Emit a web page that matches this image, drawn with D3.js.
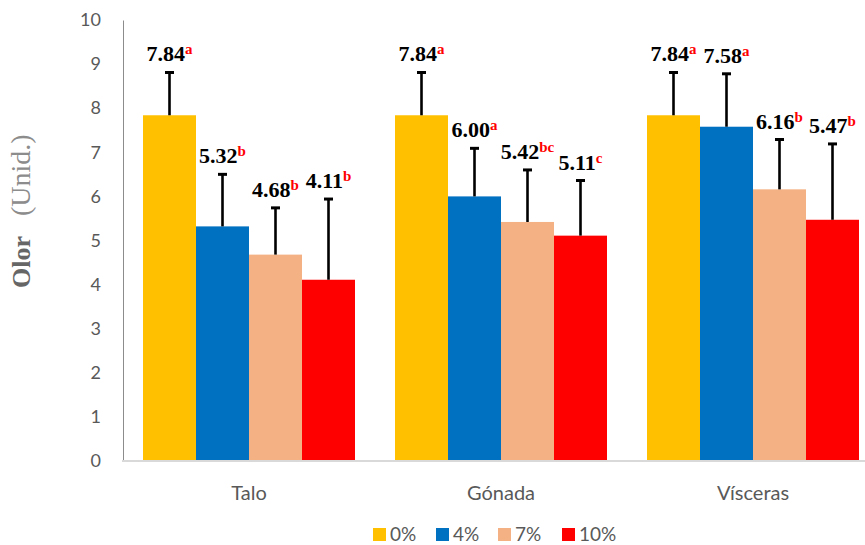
<!DOCTYPE html>
<html>
<head>
<meta charset="utf-8">
<script src="https://cdn.jsdelivr.net/npm/d3@7"></script>
<style>
  html, body { margin: 0; padding: 0; background: #fff; }
  svg { display: block; }
</style>
</head>
<body>
<svg id="chart" width="865" height="545"></svg>
<script>
// ---- data ----
const categories = ["Talo", "Gónada", "Vísceras"];
const seriesNames = ["0%", "4%", "7%", "10%"];
const seriesColors = ["#FFC000", "#0070C0", "#F4B183", "#FF0000"];
const values0 = [7.84, 7.84, 7.84];
const values4 = [5.32, 6.00, 7.58];
const values7 = [4.68, 5.42, 6.16];
const values10 = [4.11, 5.11, 5.47];
const sd0 = [0.97, 0.97, 0.97];
const sd4 = [1.18, 1.09, 1.20];
const sd7 = [1.06, 1.18, 1.13];
const sd10 = [1.83, 1.25, 1.72];
const letters0 = ["a", "a", "a"];
const letters4 = ["b", "a", "a"];
const letters7 = ["b", "bc", "b"];
const letters10 = ["b", "c", "b"];
const yTicks = [0, 1, 2, 3, 4, 5, 6, 7, 8, 9, 10];

const allValues = [values0, values4, values7, values10];
const allSd = [sd0, sd4, sd7, sd10];
const allLetters = [letters0, letters4, letters7, letters10];

const data = [];
categories.forEach((c, ci) => {
  seriesNames.forEach((s, si) => {
    data.push({ cat: c, series: s, color: seriesColors[si],
      value: allValues[si][ci], sd: allSd[si][ci], letter: allLetters[si][ci] });
  });
});

// ---- layout ----
const svg = d3.select("#chart");
const mLeft = 123, mRight = 879, mTop = 20, mBottom = 461;

const x0 = d3.scaleBand().domain(categories).range([mLeft, mRight])
  .paddingInner(40 / 252).paddingOuter(20 / 252);
const x1 = d3.scaleBand().domain(seriesNames).range([0, x0.bandwidth()]).padding(0);
const y = d3.scaleLinear().domain([0, 10]).range([mBottom, mTop]);

// y axis
const yAxis = d3.axisLeft(y).tickValues(yTicks).tickSize(0).tickPadding(22);
const gy = svg.append("g").attr("transform", `translate(${mLeft},0)`).call(yAxis);
gy.select(".domain").attr("stroke", "#8c8c8c").attr("stroke-width", 1);
gy.selectAll(".tick text").attr("fill", "#595959")
  .style("font-family", "Lato, 'Open Sans', sans-serif").style("font-size", "18px");

// bars
const bars = svg.append("g");
bars.selectAll("rect").data(data).enter().append("rect")
  .attr("x", d => x0(d.cat) + x1(d.series))
  .attr("y", d => y(d.value))
  .attr("width", x1.bandwidth())
  .attr("height", d => y(0) - y(d.value))
  .attr("fill", d => d.color);

// x axis
const xAxis = d3.axisBottom(x0).tickSize(0).tickPadding(25);
const gx = svg.append("g").attr("transform", `translate(0,${mBottom})`).call(xAxis);
gx.select(".domain").attr("stroke", "#d9d9d9").attr("stroke-width", 2)
  .attr("d", `M${mLeft - 1},0H865`);
gx.selectAll(".tick text").attr("fill", "#595959")
  .style("font-family", "Lato, 'Open Sans', sans-serif").style("font-size", "20px");

// error bars
const eb = svg.append("g").attr("stroke", "#000").attr("stroke-width", 2.6);
data.forEach(d => {
  const cx = x0(d.cat) + x1(d.series) + x1.bandwidth() / 2;
  eb.append("line").attr("x1", cx).attr("x2", cx)
    .attr("y1", y(d.value)).attr("y2", y(d.value + d.sd));
  eb.append("line").attr("x1", cx - 4.5).attr("x2", cx + 4.5)
    .attr("y1", y(d.value + d.sd)).attr("y2", y(d.value + d.sd))
    .attr("stroke-width", 3);
});

// value labels
const fmt = d3.format(".2f");
const lbl = svg.append("g");
data.forEach(d => {
  const cx = x0(d.cat) + x1(d.series) + x1.bandwidth() / 2;
  const t = lbl.append("text")
    .attr("x", cx).attr("y", y(d.value + d.sd) - 11)
    .attr("text-anchor", "middle")
    .style("font-family", "'Liberation Serif', 'Times New Roman', serif")
    .style("font-weight", "bold");
  t.append("tspan").text(fmt(d.value)).style("font-size", "22px").attr("fill", "#000");
  t.append("tspan").text(d.letter).style("font-size", "15px").attr("fill", "#FF0000")
    .attr("dy", -7);
});

// y title
const yt = svg.append("text")
  .attr("transform", `translate(30,288) rotate(-90)`)
  .attr("text-anchor", "start")
  .style("font-family", "'Liberation Serif', 'Times New Roman', serif");
yt.append("tspan").text("Olor").style("font-weight", "bold").style("font-size", "26px")
  .attr("fill", "#666666");
yt.append("tspan").text("(Unid.)").style("font-size", "28px").attr("dx", 20)
  .attr("fill", "#8c8c8c");

// legend
const legendX = [373, 436, 498, 562];
const lg = svg.append("g");
seriesNames.forEach((s, i) => {
  lg.append("rect").attr("x", legendX[i]).attr("y", 528).attr("width", 13).attr("height", 13)
    .attr("fill", seriesColors[i]);
  lg.append("text").attr("x", legendX[i] + 17).attr("y", 541)
    .attr("fill", "#595959")
    .style("font-family", "Lato, 'Open Sans', sans-serif").style("font-size", "19px")
    .text(s);
});
</script>
</body>
</html>
